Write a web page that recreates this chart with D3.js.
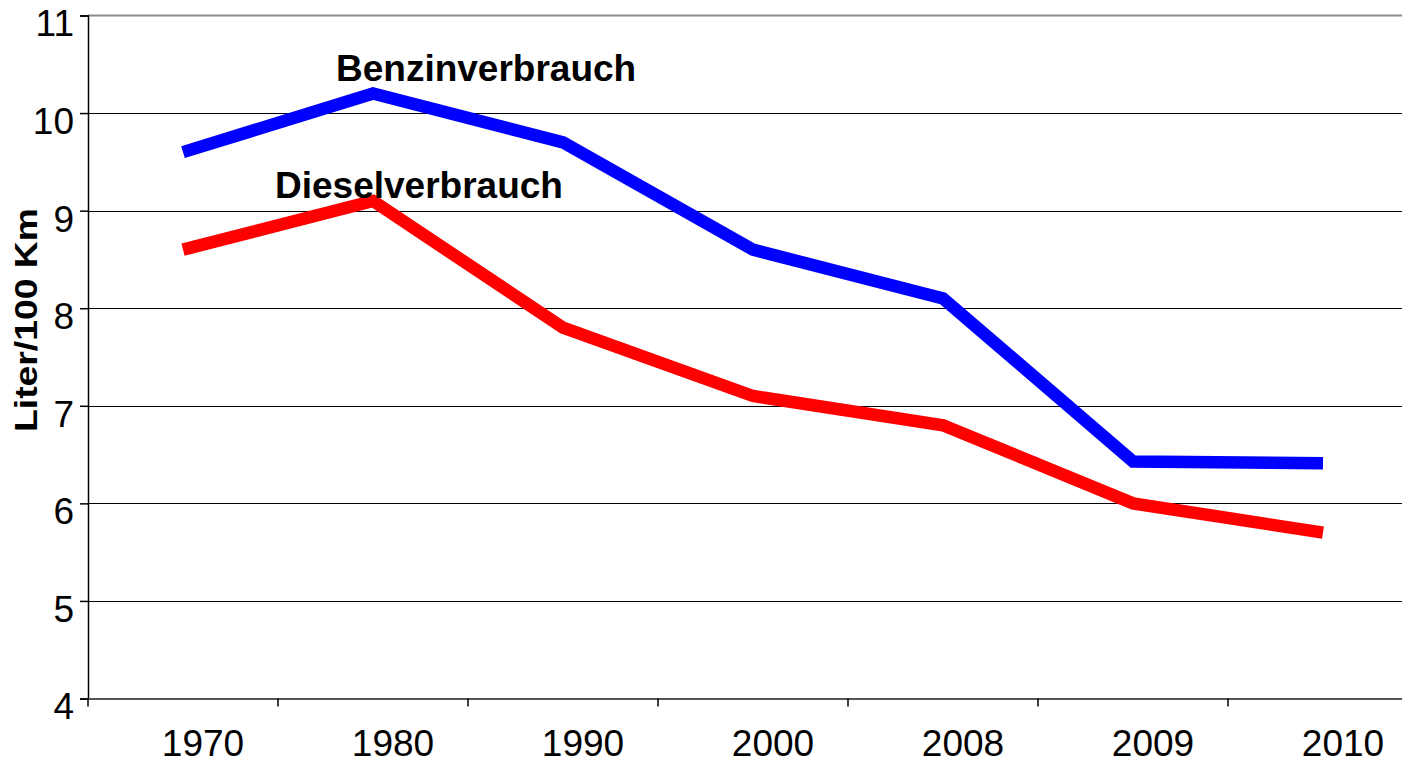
<!DOCTYPE html>
<html>
<head>
<meta charset="utf-8">
<script src="https://cdn.jsdelivr.net/npm/d3@7"></script>
<style>
  body { margin: 0; background: #fff; }
  svg { display: block; font-family: "Liberation Sans", Arial, sans-serif; }
</style>
</head>
<body>
<div class="chart"></div>
<script>
const WIDTH = 1402;
const HEIGHT = 762;

// data
var years = ["1970", "1980", "1990", "2000", "2008", "2009", "2010"];
var benzin = [9.6, 10.2, 9.7, 8.6, 8.1, 6.43, 6.41];
var diesel = [8.6, 9.1, 7.8, 7.1, 6.8, 6.0, 5.7];
var yTicks = [4, 5, 6, 7, 8, 9, 10, 11];

var plotLeft = 88, plotTop = 15.5, plotBottom = 698.5;

var svg = d3.select('.chart').append('svg')
    .attr('width', WIDTH)
    .attr('height', HEIGHT);

var x = d3.scaleBand().domain(years).range([plotLeft, plotLeft + 7 * 190]);
var y = d3.scaleLinear().domain([4, 11]).range([plotBottom, plotTop]);

var cx = function (d) { return x(d) + x.bandwidth() / 2; };

// gridlines
svg.append('g').selectAll('line')
    .data(yTicks.filter(function (d) { return d > 4 && d < 11; }))
    .enter().append('line')
    .attr('x1', plotLeft).attr('x2', WIDTH)
    .attr('y1', function (d) { return Math.round(y(d)) + 0.5; })
    .attr('y2', function (d) { return Math.round(y(d)) + 0.5; })
    .attr('stroke', '#000')
    .attr('stroke-width', 1.2);

// top border
svg.append('line')
    .attr('x1', plotLeft).attr('x2', WIDTH)
    .attr('y1', y(11)).attr('y2', y(11))
    .attr('stroke', '#8c8c8c').attr('stroke-width', 2);

// y axis
var yAxis = svg.append('g')
    .attr('transform', 'translate(' + plotLeft + ',0)')
    .call(d3.axisLeft(y).tickValues(yTicks).tickFormat(d3.format('d'))
        .tickSize(8).tickPadding(6));
yAxis.select('.domain').attr('stroke', '#000').attr('stroke-width', 1.5);
yAxis.selectAll('.tick line').attr('stroke', '#000').attr('stroke-width', 1.5);
yAxis.selectAll('.tick text')
    .attr('font-size', 37)
    .attr('font-family', '"Liberation Sans", Arial, sans-serif')
    .attr('fill', '#000')
    .attr('dy', '0.55em');

// x axis
var xAxis = svg.append('g')
    .attr('transform', 'translate(0,' + plotBottom + ')')
    .call(d3.axisBottom(x).tickSize(0).tickPadding(0));
xAxis.select('.domain').attr('stroke', '#555').attr('stroke-width', 2);
xAxis.selectAll('.tick text')
    .attr('font-size', 37)
    .attr('font-family', '"Liberation Sans", Arial, sans-serif')
    .attr('fill', '#000')
    .attr('x', 20)
    .attr('y', 57)
    .attr('dy', 0);

// x ticks at band edges
svg.append('g').selectAll('line')
    .data(years)
    .enter().append('line')
    .attr('x1', function (d) { return x(d); })
    .attr('x2', function (d) { return x(d); })
    .attr('y1', plotBottom).attr('y2', plotBottom + 8)
    .attr('stroke', '#000').attr('stroke-width', 1.5);

// lines
var line = d3.line()
    .x(function (d, i) { return cx(years[i]); })
    .y(function (d) { return y(d); });

svg.append('path')
    .datum(benzin)
    .attr('d', line)
    .attr('fill', 'none')
    .attr('stroke', '#0000ff')
    .attr('stroke-width', 12.5)
    .attr('stroke-linejoin', 'miter');

svg.append('path')
    .datum(diesel)
    .attr('d', line)
    .attr('fill', 'none')
    .attr('stroke', '#ff0000')
    .attr('stroke-width', 12.5)
    .attr('stroke-linejoin', 'miter');

// series labels
svg.append('text')
    .attr('x', cx('1980') - 37)
    .attr('y', 81)
    .attr('font-size', 37)
    .attr('font-weight', 'bold')
    .text('Benzinverbrauch');

svg.append('text')
    .attr('x', cx('1980') - 98)
    .attr('y', 198)
    .attr('font-size', 37)
    .attr('font-weight', 'bold')
    .text('Dieselverbrauch');

// y title
svg.append('text')
    .attr('transform', 'translate(37,320) rotate(-90)')
    .attr('text-anchor', 'middle')
    .attr('font-size', 31)
    .attr('font-weight', 'bold')
    .attr('textLength', 224)
    .attr('lengthAdjust', 'spacingAndGlyphs')
    .text('Liter/100 Km');
</script>
</body>
</html>
